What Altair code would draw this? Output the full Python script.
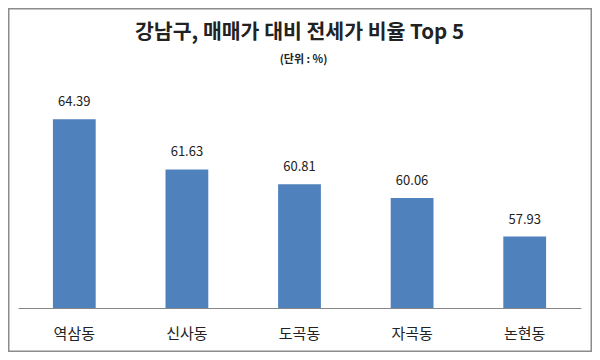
import altair as alt
import pandas as pd

categories = ["역삼동", "신사동", "도곡동", "자곡동", "논현동"]
values = [64.39, 61.63, 60.81, 60.06, 57.93]
title_text = "강남구, 매매가 대비 전세가 비율 Top 5"
subtitle_text = "(단위 : %)"
y_min, y_max = 54, 66

FONT = "Noto Sans CJK KR"
W, H = 563, 218
df = pd.DataFrame({"동": categories, "비율": values})

x = alt.X("동:N", sort=categories,
          scale=alt.Scale(paddingInner=0.62, paddingOuter=0.31),
          axis=alt.Axis(title=None, labelAngle=0, ticks=False, domainColor="#868686",
                        domainWidth=1, labelFontSize=15, labelColor="#222222",
                        labelFont=FONT, labelPadding=18))
y = alt.Y("비율:Q", scale=alt.Scale(domain=[y_min, y_max], zero=False, nice=False),
          axis=None)

base = alt.Chart(df).encode(x=x, y=y)
bars = base.mark_bar(color="#4F81BD").encode(y2=alt.datum(y_min))
labels = base.mark_text(dy=-17, fontSize=13, font=FONT, color="#222222",
                        baseline="middle").encode(text=alt.Text("비율:Q", format=".2f"))

frame = alt.Chart(pd.DataFrame({"f": [0]})).mark_rect(
    fill=None, stroke="#8c8c8c", strokeWidth=1.5, clip=False
).encode(x=alt.value(-9.25), x2=alt.value(W + 10.25),
         y=alt.value(-81.25), y2=alt.value(H + 43.25))

title_df = pd.DataFrame({"t": [title_text]})
sub_df = pd.DataFrame({"t": [subtitle_text]})
title = alt.Chart(title_df).mark_text(
    font=FONT, fontSize=20.5, fontWeight="bold", color="#222222", baseline="middle", align="center"
).encode(text="t:N", x=alt.value(W / 2), y=alt.value(-57))
subtitle = alt.Chart(sub_df).mark_text(
    font=FONT, fontSize=11, fontWeight="bold", color="#222222", baseline="middle", align="center"
).encode(text="t:N", x=alt.value(W / 2 + 4), y=alt.value(-30))

chart = alt.layer(frame, title, subtitle, bars, labels).properties(
    width=W, height=H,
    padding={"left": 10, "top": 82, "right": 11, "bottom": 44},
    autosize=alt.AutoSizeParams(type="none"),
).configure(background="white").configure_view(strokeWidth=0, stroke="transparent")

chart.save("out.html", embed_options={"renderer": "svg", "actions": False})
